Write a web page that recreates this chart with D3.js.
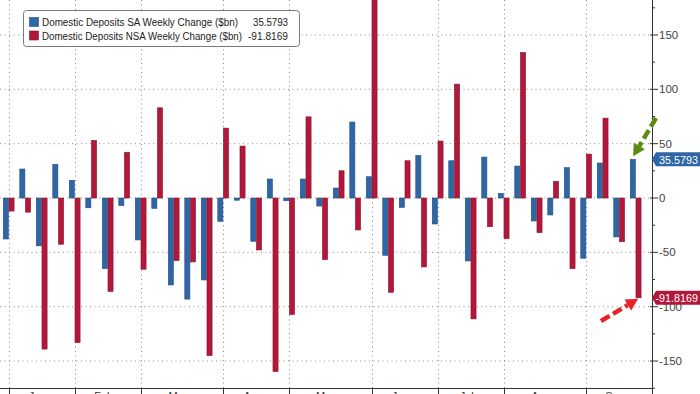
<!DOCTYPE html>
<html><head><meta charset="utf-8">
<script src="https://cdn.jsdelivr.net/npm/d3@7"></script>
<style>body{margin:0;background:#fff;}svg{display:block;}</style>
</head><body><svg id="c" width="700" height="394"></svg>
<script>
// Weekly data, Jan 4 2023 .. Sep 27 2023 ($bn)
const saChange = [-37.7, 26.7, -44, 31, 16.3, -9, -65, -7, -38.6, -9.5, -80, -93, -75.4, -21.4, -2,
  -39.8, 17.5, -2.5, 17.5, -7.4, 9.2, 69.9, 19.6, -52.7, -8.6, 39.2, -23.9, 34.3, -57.9, 37.7,
  4.3, 29.4, -21.1, -15.6, 27.9, -55.4, 32.2, -35.8, 35.5793];
const nsaChange = [-12, -13, -139, -42.5, -133, 53, -86, 42, -65.5, 83, -57.6, -58.8, -145, 64.3, 47.8,
  -47.8, -159.6, -107.2, 74.7, -56.7, 25.1, -29.4, 205, -86.7, 34.3, -63.4, 52.4, 104.8, -111.2, -26.4,
  -37.4, 133.9, -31.9, 15.3, -65, 40.4, 73.5, -40.2, -91.8169];
const monthLabels = ["Jan","Feb","Mar","Apr","May","Jun","Jul","Aug","Sep"];
const monthStartWeek = [0, 4, 8, 13, 17, 22, 26, 30, 35];
const yTicks = [-150, -100, -50, 0, 50, 100, 150];
const seriesNames = ["Domestic Deposits SA Weekly Change ($bn)", "Domestic Deposits NSA Weekly Change ($bn)"];
const lastValues = ["35.5793", "-91.8169"];
const colors = ["#2f66a6", "#b2183a"];
const strokeCols = ["#1f4f86", "#8e1029"];

const FONT = "Liberation Sans, Arial, sans-serif";
const svg = d3.select("#c");
const W = 652, H = 388;
const x = d3.scaleLinear().domain([-0.527, 38.99]).range([0, W]);
const y = d3.scaleLinear().domain([-174.8, 182.2]).range([H, 0]);
const bw = 5.4;
const n = saChange.length;

svg.append("defs").append("clipPath").attr("id","clip")
  .append("rect").attr("x",0).attr("y",0).attr("width",W).attr("height",H);

// grid
const g = svg.append("g");
g.selectAll("line.hg").data(yTicks).join("line")
  .attr("x1",0).attr("x2",W).attr("y1",d=>y(d)).attr("y2",d=>y(d))
  .attr("stroke","#8a8a8a").attr("stroke-width",1).attr("stroke-dasharray","1,3.5");
g.selectAll("line.vg").data(monthStartWeek).join("line")
  .attr("x1",d=>Math.round(x(d))+0.5).attr("x2",d=>Math.round(x(d))+0.5).attr("y1",0).attr("y2",H)
  .attr("stroke","#8a8a8a").attr("stroke-width",1).attr("stroke-dasharray","1,3.5");

// bars
const bars = svg.append("g").attr("clip-path","url(#clip)");
[saChange, nsaChange].forEach((vals, s) => {
  bars.selectAll("rect.s"+s).data(vals).join("rect")
    .attr("x",(d,i)=> s===0 ? x(i)-bw : x(i)+0.3)
    .attr("width",bw-0.3)
    .attr("y",d=>y(Math.max(0,d)))
    .attr("height",d=>Math.abs(y(d)-y(0)))
    .attr("fill",colors[s]).attr("stroke",strokeCols[s]).attr("stroke-width",0.6);
});

// x axis
const xa = svg.append("g");
xa.append("line").attr("x1",0).attr("x2",W).attr("y1",H+0.5).attr("y2",H+0.5).attr("stroke","#333").attr("stroke-width",1);
xa.selectAll("line.t").data(monthStartWeek.concat([39])).join("line")
  .attr("x1",d=>Math.round(x(d>38?38.99:d))+0.5).attr("x2",d=>Math.round(x(d>38?38.99:d))+0.5)
  .attr("y1",H).attr("y2",H+6).attr("stroke","#333");
const ends = monthStartWeek.slice(1).concat([38.99]);
xa.selectAll("text").data(monthLabels).join("text")
  .attr("x",(d,i)=> (x(monthStartWeek[i]) + x(ends[i]))/2 - 4)
  .attr("y",H+12).attr("text-anchor","middle")
  .attr("font-family",FONT).attr("font-size",11).attr("fill","#333")
  .text(d=>d);

// y axis right
const ya = svg.append("g");
ya.append("line").attr("x1",W+0.5).attr("x2",W+0.5).attr("y1",0).attr("y2",H+1).attr("stroke","#333");
const minor = d3.range(-175, 176, 25).filter(v => v % 50 !== 0);
ya.selectAll("line.mn").data(minor).join("line")
  .attr("x1",W).attr("x2",W+3).attr("y1",d=>y(d)).attr("y2",d=>y(d)).attr("stroke","#333");
ya.selectAll("line.mj").data(yTicks).join("line")
  .attr("x1",W-2).attr("x2",W+6).attr("y1",d=>y(d)).attr("y2",d=>y(d)).attr("stroke","#333");
ya.selectAll("text").data(yTicks).join("text")
  .attr("x",W+7).attr("y",d=>y(d)+4)
  .attr("font-family",FONT).attr("font-size",11.5).attr("fill","#444")
  .text(d=>d);

// value tags
const tagVals = [saChange[n-1], nsaChange[n-1]];
const tagTextX = [659, 655.5];
tagVals.forEach((v, s) => {
  const cy = y(v);
  const h = 14, x0 = W, tip = 4;
  svg.append("path")
    .attr("d", `M${x0},${cy} L${x0+tip},${cy-h/2} L700,${cy-h/2} L700,${cy+h/2} L${x0+tip},${cy+h/2} Z`)
    .attr("fill", colors[s]);
  svg.append("text").attr("x", tagTextX[s]).attr("y", cy+4.5)
    .attr("font-family",FONT).attr("font-size",11.5).attr("fill","#fff")
    .attr("textLength", 698 - tagTextX[s]).attr("lengthAdjust","spacingAndGlyphs")
    .text(lastValues[s]);
});

// arrows
function arrow(x1,y1,x2,y2,col){
  const ang = Math.atan2(y2-y1,x2-x1);
  const hl = 12, hw = 6.5;
  const bx = x2 - hl*Math.cos(ang), by = y2 - hl*Math.sin(ang);
  svg.append("line").attr("x1",x1).attr("y1",y1).attr("x2",bx).attr("y2",by)
    .attr("stroke",col).attr("stroke-width",4.5).attr("stroke-dasharray","10,4");
  const px = -Math.sin(ang), py = Math.cos(ang);
  svg.append("path").attr("d",`M${x2},${y2} L${bx+px*hw},${by+py*hw} L${bx-px*hw},${by-py*hw} Z`).attr("fill",col);
}
arrow(656, 118, x(n-1)-2.5, y(saChange[n-1])-3, "#5a8c12");
arrow(601, 321, x(n-1)+2.5, y(nsaChange[n-1])+1, "#e8242a");

// legend
const lg = svg.append("g");
lg.append("rect").attr("x",23.5).attr("y",10.5).attr("width",276).attr("height",36).attr("rx",3)
  .attr("fill","#fff").attr("stroke","#7a7a7a").attr("stroke-width",1);
const nameLen = [196, 200];
const valLen = [35, 40];
seriesNames.forEach((nm, s) => {
  const cy = 22 + s*13.5;
  lg.append("rect").attr("x",29.5).attr("y",cy-4.5).attr("width",9).attr("height",9)
    .attr("fill",colors[s]).attr("stroke",strokeCols[s]).attr("stroke-width",0.6);
  lg.append("text").attr("x",42).attr("y",cy+4).attr("font-family",FONT)
    .attr("font-size",10).attr("fill","#222")
    .attr("textLength",nameLen[s]).attr("lengthAdjust","spacingAndGlyphs").text(nm);
  lg.append("text").attr("x",288 - valLen[s]).attr("y",cy+4).attr("font-family",FONT)
    .attr("font-size",10.5).attr("fill","#222")
    .attr("textLength",valLen[s]).attr("lengthAdjust","spacingAndGlyphs").text(lastValues[s]);
});
</script></body></html>
